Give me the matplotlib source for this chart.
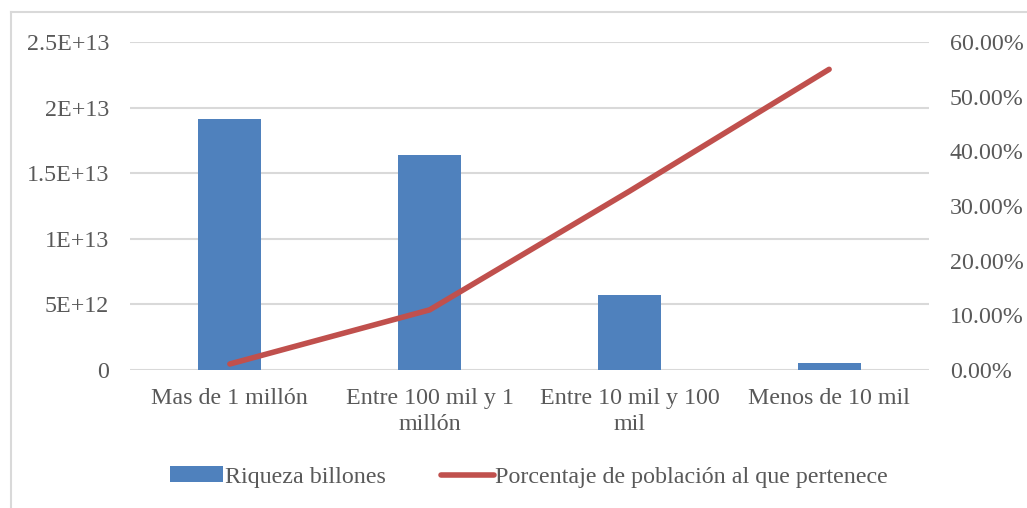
import matplotlib.pyplot as plt
import numpy as np
from matplotlib.lines import Line2D
from matplotlib.patches import Patch
from matplotlib.ticker import FuncFormatter

plt.rcParams['font.family'] = ['Liberation Serif', 'DejaVu Serif']

# ------------------------------------
# Data
categories = ["Mas de 1 millón", "Entre 100 mil y 1\nmillón",
              "Entre 10 mil y 100\nmil", "Menos de 10 mil"]
riqueza = [1.913e13, 1.638e13, 0.572e13, 0.053e13]
porcentaje = [0.011, 0.11, 0.327, 0.55]

left_ticks = [0, 5e12, 1e13, 1.5e13, 2e13, 2.5e13]
left_labels = ["0", "5E+12", "1E+13", "1.5E+13", "2E+13", "2.5E+13"]
right_ticks = [0, 0.1, 0.2, 0.3, 0.4, 0.5, 0.6]

blue = '#4F81BD'
red = '#C0504D'
txt = '#595959'
grid = '#D9D9D9'
fs = 17.3

# ------------------------------------
# Figure
W, H = 1027, 508
fig = plt.figure(figsize=(W / 100, H / 100), dpi=100)
ax = fig.add_axes([130 / W, 138 / H, 799 / W, 328 / H])

x = np.arange(len(categories))
ax.bar(x, riqueza, width=0.315, color=blue, zorder=2)
ax.set_xlim(-0.5, len(categories) - 0.5)
ax.set_ylim(0, 2.5e13)
ax.set_yticks(left_ticks)
ax.set_yticklabels(left_labels)
ax.set_xticks(x)
ax.set_xticklabels(categories, linespacing=1.3)
ax.grid(axis='y', color=grid, linewidth=1.5, zorder=0)
ax.set_axisbelow(True)
for s in ax.spines.values():
    s.set_visible(False)
ax.tick_params(axis='both', length=0, labelsize=fs, labelcolor=txt)
ax.tick_params(axis='y', pad=15)
ax.tick_params(axis='x', pad=13)

ax2 = ax.twinx()
ax2.plot(x, porcentaje, color=red, linewidth=4, solid_capstyle='round', zorder=3)
ax2.set_ylim(0, 0.6)
ax2.set_yticks(right_ticks)
ax2.yaxis.set_major_formatter(FuncFormatter(lambda v, _: f"{v * 100:.2f}%"))
for s in ax2.spines.values():
    s.set_visible(False)
ax2.tick_params(axis='y', length=0, labelsize=fs, labelcolor=txt, pad=15)

# Legend
handles = [Patch(facecolor=blue, edgecolor='none'),
           Line2D([0], [0], color=red, linewidth=4, solid_capstyle='round')]
labels = ["Riqueza billones", "Porcentaje de población al que pertenece"]
leg = fig.legend(handles, labels, loc='center', bbox_to_anchor=(529 / W, 1 - 477 / H),
                 ncol=2, frameon=False, fontsize=fs, handlelength=2.2,
                 handleheight=0.6, handletextpad=0.08, columnspacing=2.3)
for t in leg.get_texts():
    t.set_color(txt)

# Outer border
fig.add_artist(Line2D([11 / W, 1], [1 - 12 / H, 1 - 12 / H], color=grid, linewidth=1.5))
fig.add_artist(Line2D([11 / W, 11 / W], [0, 1 - 12 / H], color=grid, linewidth=1.5))

fig.savefig('out.png', dpi=100)
